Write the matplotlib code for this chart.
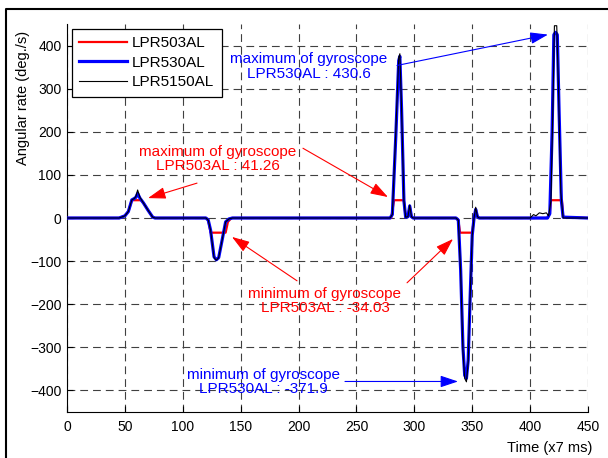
import matplotlib
matplotlib.use("Agg")
import matplotlib.pyplot as plt
from matplotlib.lines import Line2D
import numpy as np

plt.rcParams['font.family'] = ['Liberation Sans', 'DejaVu Sans']

# breakpoints (time in x7 ms, angular rate in deg./s)
redTime = [0, 45, 50, 53, 56, 64, 66, 70, 74, 76,
           120, 122, 124, 137, 139, 142,
           280, 281.5, 282.5, 290, 291, 292.5, 294.5, 296, 297.5, 299,
           336, 338, 339.5, 350, 351.5, 353, 354.5, 356,
           415, 417, 418, 427.5, 428.5, 450]
redRate = [0, 0, 5, 15, 41.26, 41.26, 35, 18, 2, 0,
           0, -5, -34.03, -34.03, -9, 0,
           0, 25, 41.26, 41.26, 40, 2, 3, 28, 3, 0,
           0, -5, -34.03, -34.03, -2, 20, 3, 0,
           0, 10, 41.26, 41.26, 2, 0]

blueTime = [0, 45, 50, 53, 56, 58, 59.5, 61, 63, 66, 70, 74, 76,
            120, 122, 124, 127, 129, 131, 134, 137, 140, 143,
            279, 281, 284, 286.5, 287.5, 289, 291, 292.5, 294.5, 296, 297.5, 299,
            336, 338, 340, 342, 343.5, 345, 346.5, 348, 350, 351.5, 353, 354.5, 356,
            415, 417, 419, 420.5, 422, 423.5, 425, 427, 428.5, 450]
blueRate = [0, 0, 5, 15, 42, 45, 48, 57, 46, 35, 18, 2, 0,
            0, -5, -28, -90, -97, -92, -51, -9, -2, 0,
            0, 8, 190, 365, 375, 250, 40, 2, 3, 28, 3, 0,
            0, -5, -120, -300, -365, -371.9, -330, -200, -40, -2, 20, 3, 0,
            0, 10, 200, 425, 430.6, 425, 250, 40, 2, 0]

blackTime = [0, 45, 50, 53, 56, 58, 59.5, 61, 63, 66, 70, 74, 76,
             120, 122, 124, 127, 129, 131, 134, 137, 140, 143,
             279, 281, 284, 286.5, 287.5, 289, 291, 292.5, 294.5, 296, 297.5, 299,
             336, 338, 340, 342, 343.5, 345, 346.5, 348, 350, 351.5, 353, 354.5, 356,
             400, 403, 405, 408, 411, 414, 416, 418, 420, 421, 423, 424.5, 426.5, 428.5, 450]
blackRate = [0, 0, 5, 15, 42, 45, 50, 65, 48, 35, 18, 2, 0,
             0, -5, -28, -92, -98, -92, -51, -9, -2, 0,
             0, 8, 200, 372, 381, 250, 40, 2, 3, 30, 3, 0,
             0, -5, -125, -310, -372, -380, -335, -200, -40, -2, 25, 3, 0,
             0, 8, 5, 12, 10, 12, 5, 40, 300, 446, 446, 300, 60, 0, 0]

seriesNames = ["LPR503AL", "LPR530AL", "LPR5150AL"]
xTicks = list(range(0, 451, 50))
yTicks = list(range(-400, 401, 100))

fig = plt.figure(figsize=(6.08, 4.58), dpi=100)
ax = fig.add_axes([67 / 608, 1 - 412 / 458, 521 / 608, 388 / 458])

ax.plot(redTime, redRate, color='#ff0000', lw=1.6, label=seriesNames[0], zorder=3)
ax.plot(blueTime, blueRate, color='#0000ff', lw=2.3, label=seriesNames[1], zorder=4)
ax.plot(blackTime, blackRate, color='black', lw=0.8, label=seriesNames[2], zorder=5)

# --- annotations ---
textKw = dict(fontsize=11, ha='center', va='center', linespacing=1.05)
ax.text(130.4, 136.4, "maximum of gyroscope\nLPR503AL : 41.26", color='#ff0000', **textKw)
ax.text(222.8, -193, "minimum of gyroscope\nLPR503AL : -34.03", color='#ff0000', **textKw)
ax.text(209, 351, "maximum of gyroscope\nLPR530AL : 430.6", color='#0000ff', **textKw)
ax.text(169.3, -380, "minimum of gyroscope\nLPR530AL : -371.9", color='#0000ff', **textKw)

arrows = [
    ((112.3, 80.9), (70, 46.2), '#ff0000'),
    ((203.8, 161.8), (277.2, 48.6), '#ff0000'),
    ((198.7, -145.7), (142.5, -43.9), '#ff0000'),
    ((293.7, -150.3), (333.4, -48.6), '#ff0000'),
    ((285, 353.8), (415.4, 425.4), '#0000ff'),
    ((240.1, -379.2), (337.7, -379.2), '#0000ff'),
]
for tail, head, col in arrows:
    ax.annotate('', xy=head, xytext=tail, zorder=6,
                arrowprops=dict(arrowstyle='-|>,head_length=0.9,head_width=0.3',
                                color=col, lw=0.8, mutation_scale=12,
                                shrinkA=0, shrinkB=0))

# --- axes ---
ax.set_xlim(0, 450)
ax.set_ylim(-450, 450)
ax.set_xticks(xTicks)
ax.set_yticks(yTicks)
ax.tick_params(direction='in', length=4, width=0.8, labelsize=10, top=False, right=False)
ax.tick_params(axis='x', pad=6)
ax.tick_params(axis='y', pad=4)
for side in ['top', 'right']:
    ax.spines[side].set_visible(False)
ax.grid(True, linestyle=(0, (7, 4.5)), color='0.25', linewidth=0.8)
ax.set_axisbelow(True)

ax.set_xlabel("Time (x7 ms)", fontsize=10.5, loc='right')
ax.xaxis.set_label_coords(1.008, -0.074)
ax.set_ylabel("Angular rate (deg./s)", fontsize=10.5)
ax.yaxis.set_label_coords(-0.071, 0.81)

ax.legend(loc='upper left', fontsize=11, frameon=True, fancybox=False, edgecolor='black',
          framealpha=1, handlelength=3.1, handletextpad=0.35, labelspacing=0.35,
          borderaxespad=0.3, borderpad=0.5).get_frame().set_linewidth(0.9)

# outer frame of the figure window
fig.add_artist(Line2D([6 / 608, 6 / 608, 1.0], [0, 1 - 8.5 / 458, 1 - 8.5 / 458],
                      transform=fig.transFigure, color='black', lw=1.5))

fig.savefig("out.png", dpi=100)
